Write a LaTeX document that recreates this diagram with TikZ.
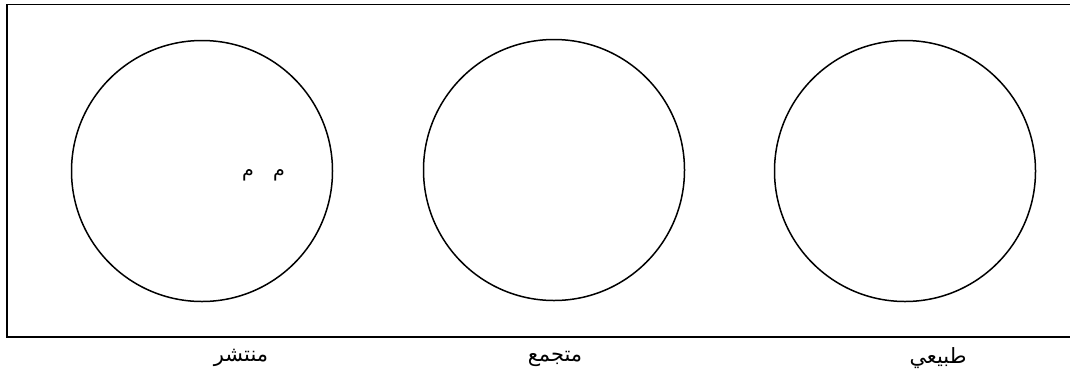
\documentclass[tikz,border=0pt]{standalone}
\usepackage{fontspec}
\newfontfamily\arabicfont[Script=Arabic]{DejaVu Sans}
\TeXXeTstate=1
\begin{document}
\begin{tikzpicture}[x=1pt,y=-1pt,
  frame/.style={draw=black,line width=1.8pt},
  ring/.style={draw=black,line width=1.5pt,circle,minimum size=261pt,inner sep=0pt},
  lbl/.style={font=\arabicfont\fontsize{21}{24}\selectfont,inner sep=0pt},
  small/.style={font=\arabicfont\fontsize{19}{22}\selectfont,inner sep=0pt}]
\useasboundingbox (0,0) rectangle (1070,381);
\clip (0,0) rectangle (1070,381);
\draw[frame] (7,4.5) rectangle (1080,337);
\node[ring] (c1) at (202,171) {};
\node[ring] (c2) at (554,170) {};
\node[ring] (c3) at (905,171) {};
\node[small] (m1) at (248,175) {\beginR م\endR};
\node[small] (m2) at (279,175) {\beginR م\endR};
\node[lbl] (l1) at (241,358) {\beginR منتشر\endR};
\node[lbl] (l2) at (555,359) {\beginR متجمع\endR};
\node[lbl] (l3) at (938,358) {\beginR طبيعي\endR};
\end{tikzpicture}
\end{document}
